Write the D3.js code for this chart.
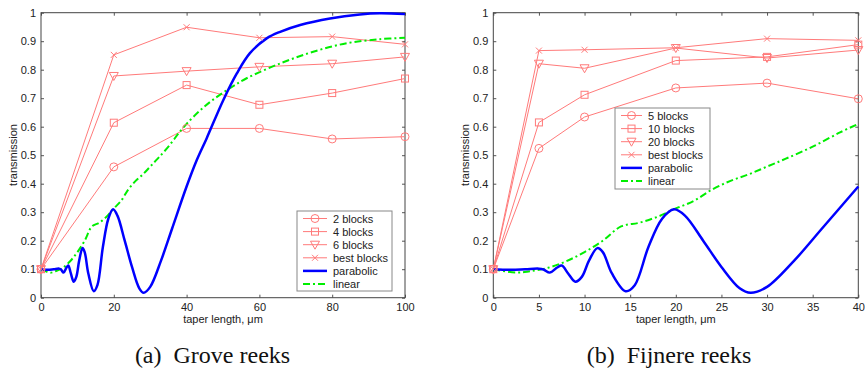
<!DOCTYPE html>
<html>
<head>
<meta charset="utf-8">
<script src="https://cdn.jsdelivr.net/npm/d3@7"></script>
<style>
  body { margin: 0; background: #fff; }
  svg { display: block; }
</style>
</head>
<body>
<svg id="chart" width="865" height="374"></svg>
<script>
// ---- data: coarse series (a) ----
const xCoarse = [0, 20, 40, 60, 80, 100];
const blocks2 = [0.1, 0.459, 0.594, 0.594, 0.557, 0.565];
const blocks4 = [0.1, 0.614, 0.746, 0.677, 0.718, 0.769];
const blocks6 = [0.1, 0.778, 0.795, 0.810, 0.821, 0.845];
const bestCoarse = [0.1, 0.852, 0.949, 0.912, 0.916, 0.889];

// ---- data: fine series (b) ----
const xFine = [0, 5, 10, 20, 30, 40];
const blocks5 = [0.1, 0.524, 0.634, 0.736, 0.753, 0.698];
const blocks10 = [0.1, 0.615, 0.712, 0.832, 0.845, 0.888];
const blocks20 = [0.1, 0.821, 0.805, 0.876, 0.841, 0.869];
const bestFine = [0.1, 0.867, 0.870, 0.877, 0.909, 0.903];

// parabolic taper
const paraX = [0, 2, 3.5, 5, 5.5, 6.2, 7, 7.5, 8.2, 9, 9.7, 10.5, 11.4, 12, 13, 14.5, 15.5, 17, 18.5, 19.8, 21, 23, 25, 27, 28.2, 30, 33, 36, 40,
               42.8, 45.5, 50.1, 53.8, 57.4, 62, 65.7, 71.2, 79.4, 87.6, 93.1, 100];
const paraY = [0.1, 0.098, 0.1, 0.102, 0.099, 0.088, 0.106, 0.113, 0.085, 0.056, 0.073, 0.131, 0.174, 0.16, 0.085, 0.023, 0.044, 0.178, 0.277, 0.31, 0.288, 0.2, 0.108, 0.033, 0.017, 0.038, 0.131, 0.242, 0.39,
               0.483, 0.559, 0.694, 0.787, 0.858, 0.91, 0.933, 0.957, 0.98, 0.994, 0.998, 0.995];

// linear taper
const linX = [0, 2.5, 4, 6, 8, 10, 12, 14, 16, 18, 20, 22, 24, 26, 28, 30, 32, 35, 38, 40,
              43.7, 47.3, 51.9, 56.5, 65.7, 74.8, 84, 93.1, 100];
const linY = [0.1, 0.088, 0.093, 0.105, 0.128, 0.16, 0.2, 0.25, 0.263, 0.284, 0.313, 0.34, 0.38, 0.41, 0.433, 0.46, 0.487, 0.53, 0.58, 0.61,
              0.657, 0.695, 0.735, 0.77, 0.822, 0.863, 0.893, 0.907, 0.912];

const yTicks = [0, 0.1, 0.2, 0.3, 0.4, 0.5, 0.6, 0.7, 0.8, 0.9, 1];
const coarseTicks = [0, 20, 40, 60, 80, 100];
const fineTicks = [0, 5, 10, 15, 20, 25, 30, 35, 40];

const RED = '#ff7a7a';
const svg = d3.select('#chart');

function marker(g, type, x, y) {
  const s = g.append('g').attr('transform', `translate(${x},${y})`)
    .attr('fill', 'none').attr('stroke', RED).attr('stroke-width', 1);
  if (type === 'circle') s.append('circle').attr('r', 4);
  if (type === 'square') s.append('rect').attr('x', -3.5).attr('y', -3.5).attr('width', 7).attr('height', 7);
  if (type === 'tri') s.append('path').attr('d', 'M-4.5,-3.5L4.5,-3.5L0,4.5Z');
  if (type === 'x') s.append('path').attr('d', 'M-3,-3L3,3M-3,3L3,-3');
}

function panel(cfg) {
  const x = d3.scaleLinear().domain(cfg.xDomain).range([cfg.left, cfg.right]);
  const y = d3.scaleLinear().domain([0, 1]).range([297.7, 12.7]);
  const g = svg.append('g');

  // axes (box with inward ticks)
  const ax = g.append('g').attr('font-family', 'Liberation Sans, Arial, sans-serif').attr('font-size', 11).attr('fill', '#222');
  ax.append('g').attr('transform', 'translate(0,297.7)')
    .call(d3.axisBottom(x).tickValues(cfg.xTicks).tickSizeInner(-3).tickSizeOuter(0).tickPadding(6))
    .call(a => a.select('.domain').remove());
  ax.append('g').attr('transform', 'translate(0,12.7)')
    .call(d3.axisTop(x).tickValues(cfg.xTicks).tickSizeInner(-3).tickSizeOuter(0).tickFormat(''))
    .call(a => a.select('.domain').remove());
  ax.append('g').attr('transform', `translate(${cfg.left},0)`)
    .call(d3.axisLeft(y).tickValues(yTicks).tickSizeInner(-3).tickSizeOuter(0).tickPadding(5).tickFormat(d3.format('')))
    .call(a => a.select('.domain').remove());
  ax.append('g').attr('transform', `translate(${cfg.right},0)`)
    .call(d3.axisRight(y).tickValues(yTicks).tickSizeInner(-3).tickSizeOuter(0).tickFormat(''))
    .call(a => a.select('.domain').remove());
  ax.selectAll('.tick line').attr('stroke', '#555');
  ax.selectAll('.tick text').attr('fill', '#222').attr('font-size', 11);
  g.append('rect').attr('x', cfg.left).attr('y', 12.7).attr('width', cfg.right - cfg.left).attr('height', 285)
    .attr('fill', 'none').attr('stroke', '#444').attr('stroke-width', 1);

  // labels
  g.append('text').attr('x', (cfg.left + cfg.right) / 2).attr('y', 323).attr('text-anchor', 'middle')
    .attr('font-family', 'Liberation Sans, Arial, sans-serif').attr('font-size', 11).attr('fill', '#222')
    .text('taper length, \u03bcm');
  g.append('text').attr('transform', `translate(${cfg.left - 24},155) rotate(-90)`).attr('text-anchor', 'middle')
    .attr('font-family', 'Liberation Sans, Arial, sans-serif').attr('font-size', 11).attr('fill', '#222')
    .text('transmission');
  g.append('text').attr('x', cfg.captionX).attr('y', 363).attr('text-anchor', 'middle')
    .attr('font-family', 'Liberation Serif, Times New Roman, serif').attr('font-size', 24).attr('fill', '#111')
    .attr('xml:space', 'preserve').style('white-space', 'pre')
    .text(cfg.caption);

  const plot = g.append('g');
  const smooth = d3.line().x(d => x(d[0])).y(d => y(d[1])).curve(d3.curveCatmullRom.alpha(0.5));
  const straight = d3.line().x(d => x(d[0])).y(d => y(d[1]));

  // red block series
  cfg.series.forEach(s => {
    const pts = cfg.xData.map((v, i) => [v, s.values[i]]);
    plot.append('path').attr('d', straight(pts)).attr('fill', 'none').attr('stroke', RED).attr('stroke-width', 1);
  });
  // linear and parabolic
  const lin = linX.map((v, i) => [v, linY[i]]).filter(d => d[0] <= cfg.xDomain[1]);
  plot.append('path').attr('d', smooth(lin)).attr('fill', 'none').attr('stroke', '#00ee00')
    .attr('stroke-width', 2).attr('stroke-dasharray', '7,3,2,3');
  const para = paraX.map((v, i) => [v, paraY[i]]).filter(d => d[0] <= cfg.xDomain[1]);
  plot.append('path').attr('d', smooth(para)).attr('fill', 'none').attr('stroke', '#0000ff').attr('stroke-width', 2.5);
  cfg.series.forEach(s => {
    cfg.xData.forEach((v, i) => marker(plot, s.marker, x(v), y(s.values[i])));
  });

  // legend
  const L = cfg.legend;
  const lg = g.append('g');
  lg.append('rect').attr('x', L.x).attr('y', L.y).attr('width', L.w).attr('height', L.h)
    .attr('fill', '#fff').attr('stroke', '#888').attr('stroke-width', 1);
  const items = cfg.series.map(s => ({ label: s.label, kind: 'red', marker: s.marker }))
    .concat([{ label: 'parabolic', kind: 'para' }, { label: 'linear', kind: 'lin' }]);
  items.forEach((it, i) => {
    const cy = L.y + 7.5 + i * 13.1;
    const x0 = L.x + 6, x1 = x0 + L.lineW;
    const ln = lg.append('line').attr('x1', x0).attr('x2', x1).attr('y1', cy).attr('y2', cy);
    if (it.kind === 'red') {
      ln.attr('stroke', RED).attr('stroke-width', 1);
      marker(lg, it.marker, (x0 + x1) / 2, cy);
    } else if (it.kind === 'para') {
      ln.attr('stroke', '#0000ff').attr('stroke-width', 2.5);
    } else {
      ln.attr('stroke', '#00ee00').attr('stroke-width', 2).attr('stroke-dasharray', '7,3,2,3');
    }
    lg.append('text').attr('x', x1 + 6).attr('y', cy + 4)
      .attr('font-family', 'Liberation Sans, Arial, sans-serif').attr('font-size', 11).attr('fill', '#222')
      .text(it.label);
  });
}

panel({
  xDomain: [0, 100], left: 41, right: 405, xTicks: coarseTicks, xData: xCoarse,
  caption: '(a)  Grove reeks', captionX: 212.5,
  series: [
    { label: '2 blocks', values: blocks2, marker: 'circle' },
    { label: '4 blocks', values: blocks4, marker: 'square' },
    { label: '6 blocks', values: blocks6, marker: 'tri' },
    { label: 'best blocks', values: bestCoarse, marker: 'x' }
  ],
  legend: { x: 297, y: 211, w: 95, h: 80, lineW: 24 }
});

panel({
  xDomain: [0, 40], left: 493.3, right: 858.3, xTicks: fineTicks, xData: xFine,
  caption: '(b)  Fijnere reeks', captionX: 669,
  series: [
    { label: '5 blocks', values: blocks5, marker: 'circle' },
    { label: '10 blocks', values: blocks10, marker: 'square' },
    { label: '20 blocks', values: blocks20, marker: 'tri' },
    { label: 'best blocks', values: bestFine, marker: 'x' }
  ],
  legend: { x: 615, y: 108, w: 95, h: 81, lineW: 21 }
});
</script>
</body>
</html>
